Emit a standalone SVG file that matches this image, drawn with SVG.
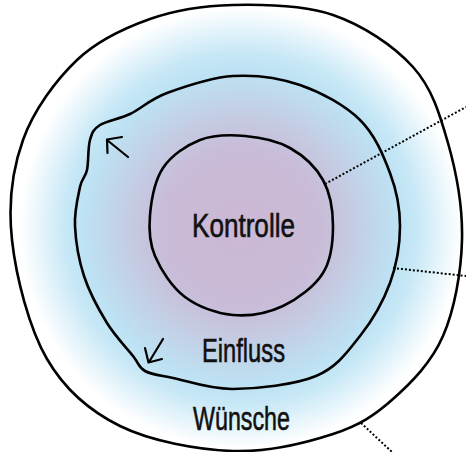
<svg xmlns="http://www.w3.org/2000/svg" width="466" height="452" viewBox="0 0 466 452">
<defs>
<radialGradient id="glow" gradientUnits="userSpaceOnUse" cx="241" cy="228" r="230">
<stop offset="0" stop-color="#cbb8d4"/>
<stop offset="0.35" stop-color="#c9bcd8"/>
<stop offset="0.68" stop-color="#bde2f3"/>
<stop offset="0.76" stop-color="#c6e7f6"/>
<stop offset="0.96" stop-color="#ffffff"/>
</radialGradient>
</defs>
<style>
.blob{fill:none;stroke:#000;stroke-width:2.6;stroke-linejoin:round}
.arrow{fill:none;stroke:#000;stroke-width:2.2;stroke-linecap:round;stroke-linejoin:round}
.lbl{font-family:"Liberation Sans","DejaVu Sans",sans-serif;font-size:33px;fill:#111;stroke:#111;stroke-width:0.6;text-anchor:middle}
.conn{fill:none;stroke:#000;stroke-width:2;stroke-dasharray:2 2}
</style>
<g id="wuensche">
<path class="blob" style="fill:url(#glow)" d="M233,5 C263.5,4.3 303,4.7 333,15 C363,25.3 393.8,45.7 413,67 C432.2,88.3 439.8,114.2 448,143 C456.2,171.8 462.8,207.8 462,240 C461.2,272.2 454.5,309.5 443,336 C431.5,362.5 411.3,382.7 393,399 C374.7,415.3 359.7,425.3 333,434 C306.3,442.7 268.5,452.3 233,451 C197.5,449.7 151,441.3 120,426 C89,410.7 65,390 47,359 C29,328 16,276.5 12,240 C8,203.5 12.2,170 23,140 C33.8,110 55.8,80.2 77,60 C98.2,39.8 124,28.2 150,19 C176,9.8 202.5,5.7 233,5 Z"/>
<text class="lbl" x="241.5" y="430" textLength="97" lengthAdjust="spacingAndGlyphs">Wünsche</text>
</g>
<g id="einfluss">
<path class="blob" d="M233,76 C255.2,74.7 278.8,77.7 300,85 C321.2,92.3 345,105.3 360,120 C375,134.7 383.3,155.3 390,173 C396.7,190.7 400,207.7 400,226 C400,244.3 396.7,264.7 390,283 C383.3,301.3 372.3,320.5 360,336 C347.7,351.5 337.2,367.2 316,376 C294.8,384.8 256.8,388.7 233,389 C209.2,389.3 187.7,381 173,378 C158.3,375 151.7,374.7 145,371 C138.3,367.3 139.3,364 133,356 C126.7,348 115.2,336.3 107,323 C98.8,309.7 89.3,292.2 84,276 C78.7,259.8 75.7,240.8 75,226 C74.3,211.2 78,196.3 80,187 C82,177.7 85.3,177.8 87,170 C88.7,162.2 87.8,147.5 90,140 C92.2,132.5 93.3,129.3 100,125 C106.7,120.7 118.8,119.3 130,114 C141.2,108.7 149.8,99.3 167,93 C184.2,86.7 210.8,77.3 233,76 Z"/>
<path class="arrow" d="M128,157 L107,140 M122,137 L107,139.5 L107.5,153"/>
<path class="arrow" d="M163,339 L149,362 M145,348 L148.5,362.5 L162,359"/>
<text class="lbl" x="243.5" y="362" textLength="83" lengthAdjust="spacingAndGlyphs">Einfluss</text>
</g>
<g id="kontrolle">
<path class="blob" d="M245,136 C260,137.3 277,140.7 290,148 C303,155.3 315.8,167 323,180 C330.2,193 333,210.5 333,226 C333,241.5 331.3,259.7 323,273 C314.7,286.3 298,299 283,306 C268,313 249.3,316.5 233,315 C216.7,313.5 198,306.8 185,297 C172,287.2 160.8,269.7 155,256 C149.2,242.3 148.7,229.7 150,215 C151.3,200.3 154.7,180.5 163,168 C171.3,155.5 186.3,145.3 200,140 C213.7,134.7 230,134.7 245,136 Z"/>
<text class="lbl" x="243.5" y="237" textLength="103" lengthAdjust="spacingAndGlyphs">Kontrolle</text>
</g>
<g id="connectors">
<line class="conn" x1="325" y1="184" x2="466" y2="107"/>
<line class="conn" x1="393" y1="268" x2="466" y2="276"/>
<line class="conn" x1="361" y1="423" x2="392" y2="452"/>
</g>
</svg>
